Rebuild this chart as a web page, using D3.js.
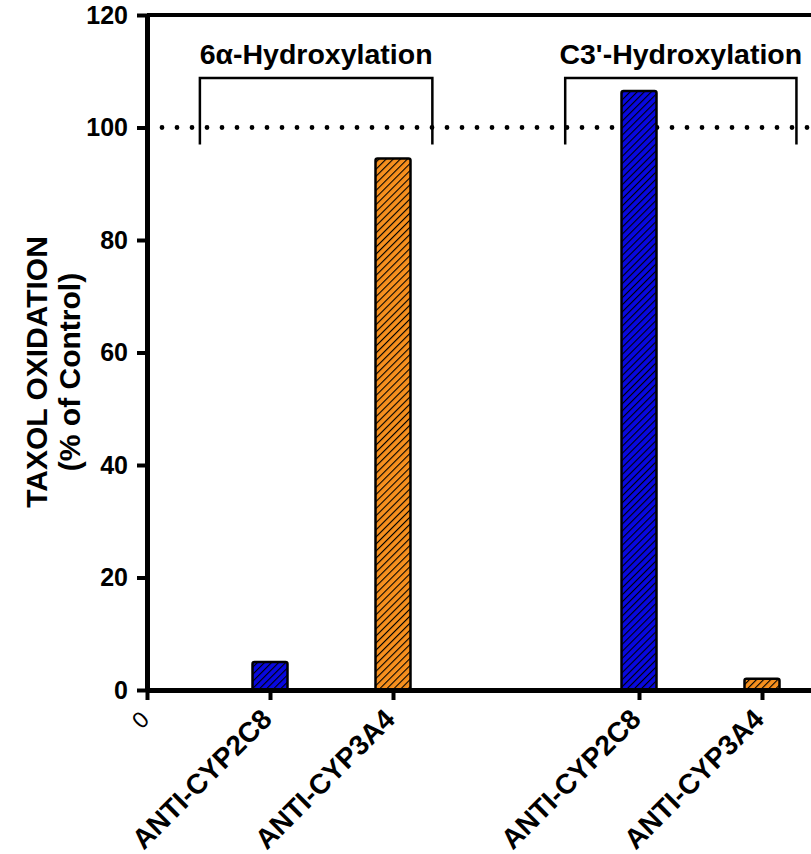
<!DOCTYPE html>
<html>
<head>
<meta charset="utf-8">
<script src="https://cdn.jsdelivr.net/npm/d3@7"></script>
<style>
  body { margin: 0; background: #fff; }
  svg { display: block; font-family: 'Liberation Sans', Arial, sans-serif; }
</style>
</head>
<body>
<div id="chart"></div>
<script>
const WIDTH = 811;
const HEIGHT = 854;

// x positions: 0 is the origin, 3 is an empty gap between the two groups
const tickPositions = [0, 1, 2, 4, 5];
const tickLabels = ['0', 'ANTI-CYP2C8', 'ANTI-CYP3A4', 'ANTI-CYP2C8', 'ANTI-CYP3A4'];

const barPositions = [1, 2, 4, 5];
const barValues = [5, 94.5, 106.5, 2];
const barAntibody = ['CYP2C8', 'CYP3A4', 'CYP2C8', 'CYP3A4'];

const groupLabels = ['6\u03b1-Hydroxylation', "C3'-Hydroxylation"];
const groupStart = [0.43, 3.4];
const groupEnd = [2.32, 5.28];
const bracketTop = 108.8;
const bracketBottom = 97;
const groupLabelLevel = 111.3;

const controlLevel = 100;
const yTicks = [0, 20, 40, 60, 80, 100, 120];

const colours = {CYP2C8: '#0808e0', CYP3A4: '#f7901e'};

function translate(x, y) {
  return `translate(${x}, ${y})`;
}

const svg = d3.select('#chart').append('svg')
  .attr('width', WIDTH)
  .attr('height', HEIGHT);

const x = d3.scaleLinear().domain([0, 6]).range([147, 885]);
const y = d3.scaleLinear().domain([0, 120]).range([690, 15]);

// hatch patterns
const defs = svg.append('defs');
Object.entries(colours).forEach(([key, colour]) => {
  const p = defs.append('pattern')
    .attr('id', `hatch-${key}`)
    .attr('patternUnits', 'userSpaceOnUse')
    .attr('width', 5)
    .attr('height', 5)
    .attr('patternTransform', 'rotate(45)');
  p.append('rect').attr('width', 5).attr('height', 5).attr('fill', colour);
  p.append('line')
    .attr('x1', 0).attr('y1', 0).attr('x2', 0).attr('y2', 5)
    .attr('stroke', '#000')
    .attr('stroke-width', 2.2);
});

// control level dotted line
svg.append('line')
  .attr('x1', x(0) + 15)
  .attr('x2', WIDTH + 20)
  .attr('y1', y(controlLevel))
  .attr('y2', y(controlLevel))
  .attr('stroke', '#000')
  .attr('stroke-width', 4.8)
  .attr('stroke-linecap', 'round')
  .attr('stroke-dasharray', '0 15');

// bars
const barWidth = 35;
svg.selectAll('.bar')
  .data(barValues)
  .enter().append('rect')
  .attr('class', 'bar')
  .attr('x', (d, i) => x(barPositions[i]) - barWidth / 2)
  .attr('y', d => y(d))
  .attr('width', barWidth)
  .attr('height', d => y(0) - y(d))
  .attr('rx', 2)
  .attr('fill', (d, i) => `url(#hatch-${barAntibody[i]})`)
  .attr('stroke', '#000')
  .attr('stroke-width', 2.5);

// group brackets
groupLabels.forEach((label, i) => {
  const x0 = x(groupStart[i]);
  const x1 = x(groupEnd[i]);
  svg.append('path')
    .attr('d', `M${x0},${y(bracketBottom)}V${y(bracketTop)}H${x1}V${y(bracketBottom)}`)
    .attr('fill', 'none')
    .attr('stroke', '#000')
    .attr('stroke-width', 2.5);
  svg.append('text')
    .attr('x', (x0 + x1) / 2)
    .attr('y', y(groupLabelLevel))
    .attr('text-anchor', 'middle')
    .attr('font-size', 28.5)
    .attr('font-weight', 'bold')
    .text(label);
});

// top frame
svg.append('line')
  .attr('x1', x(0))
  .attr('x2', x(6))
  .attr('y1', y(120))
  .attr('y2', y(120))
  .attr('stroke', '#000')
  .attr('stroke-width', 4);

// axes
const yAxis = svg.append('g')
  .attr('transform', translate(x(0), 0))
  .call(d3.axisLeft(y).tickValues(yTicks).tickSize(10).tickSizeOuter(0).tickPadding(9));
yAxis.select('.domain').attr('stroke-width', 5);
yAxis.selectAll('.tick line').attr('stroke-width', 4);
yAxis.selectAll('.tick text')
  .attr('font-size', 25)
  .attr('font-weight', 'bold')
  .attr('font-family', "'Liberation Sans', Arial, sans-serif")
  .attr('fill', '#000');

const xAxis = svg.append('g')
  .attr('transform', translate(0, y(0)))
  .call(d3.axisBottom(x).tickValues(tickPositions).tickSize(10).tickSizeOuter(0)
    .tickFormat((d, i) => tickLabels[i]));
xAxis.select('.domain').attr('stroke-width', 5);
xAxis.selectAll('.tick line').attr('stroke-width', 4);
xAxis.selectAll('.tick text')
  .attr('x', 0)
  .attr('y', 0)
  .attr('dy', 0)
  .attr('text-anchor', 'end')
  .attr('transform', translate(3, 31) + ' rotate(-45)')
  .attr('font-size', (d, i) => i === 0 ? 23 : 28)
  .attr('font-weight', (d, i) => i === 0 ? 'normal' : 'bold')
  .attr('font-family', "'Liberation Sans', Arial, sans-serif")
  .attr('fill', '#000');

// y axis title
const title = svg.append('text')
  .attr('transform', translate(0, 372) + ' rotate(-90)')
  .attr('text-anchor', 'middle')
  .attr('font-size', 30)
  .attr('font-weight', 'bold');
title.append('tspan').attr('x', 0).attr('y', 47).text('TAXOL OXIDATION');
title.append('tspan').attr('x', 0).attr('y', 80).text('(% of Control)');
</script>
</body>
</html>
